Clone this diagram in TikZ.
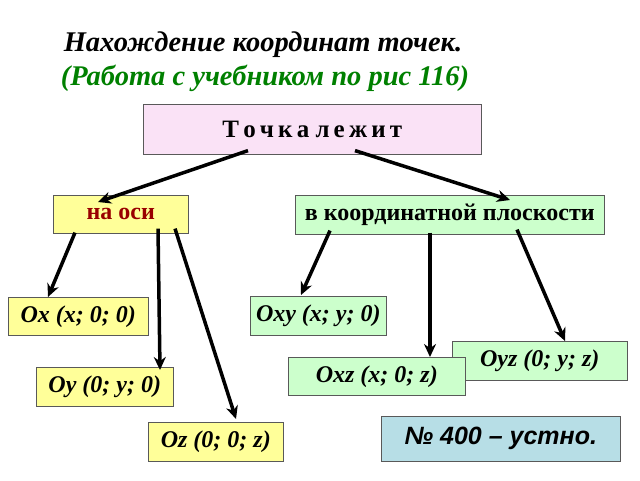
\documentclass[tikz,border=0pt]{standalone}
\usepackage{fontspec}
\usetikzlibrary{arrows.meta,calc}
\setmainfont{Liberation Serif}
\setsansfont{Liberation Sans}
\begin{document}
\begin{tikzpicture}[x=1pt,y=-1pt,
 bx/.style={draw=gray!70!black,line width=0.6pt,anchor=north west,inner sep=0pt,font=\fontsize{24}{28}\selectfont\bfseries\itshape},
 ye/.style={bx,fill={rgb,255:red,255;green,255;blue,153}},
 gr/.style={bx,fill={rgb,255:red,204;green,255;blue,204}},
 ar/.style={line width=3.5pt,-{Stealth[length=13pt,width=12pt]}}]
\useasboundingbox (0,0) rectangle (640,480);
\node[font=\fontsize{28.5}{32}\selectfont\bfseries\itshape] (t1) at (263,45) {Нахождение координат точек.};
\node[font=\fontsize{28.5}{32}\selectfont\bfseries\itshape,text={rgb,255:red,0;green,128;blue,0}] (t2) at (265,78) {(Работа с учебником по рис 116)};
\node[bx,fill={rgb,255:red,250;green,226;blue,246},minimum width=338,minimum height=50,font=\fontsize{25}{28}\selectfont\bfseries] (T) at (143,104) {Т\,о\,ч\,к\,а\ л\,е\,ж\,и\,т};
\node[ye,minimum width=135,minimum height=38,text={rgb,255:red,153;green,0;blue,0},font=\fontsize{24}{28}\selectfont\bfseries] (A) at (53,195) {на оси};
\node[gr,minimum width=309,minimum height=39,font=\fontsize{24}{28}\selectfont\bfseries] (P) at (295,195) {в координатной плоскости};
\node[ye,minimum width=140,minimum height=38] (ox) at (8,297) {Ox (x; 0; 0)};
\node[gr,minimum width=136,minimum height=39] (oxy) at (250,296) {Oxy (x; y; 0)};
\node[gr,minimum width=175,minimum height=39] (oyz) at (452,341) {Oyz (0; y; z)};
\node[gr,minimum width=177,minimum height=38] (oxz) at (288,357) {Oxz (x; 0; z)};
\node[ye,minimum width=137,minimum height=39] (oy) at (36,367) {Oy (0; y; 0)};
\node[ye,minimum width=135,minimum height=39] (oz) at (148,422) {Oz (0; 0; z)};
\node[bx,fill={rgb,255:red,183;green,222;blue,230},minimum width=239,minimum height=45,font=\fontsize{25}{28}\selectfont\sffamily\bfseries\itshape] (n) at (381,416) {№ 400 – устно.};
\draw[ar] ($(T.south west)+(105,-4)$) -- ($(A.north west)+(45,7)$);
\draw[ar] ($(T.south west)+(212,-4)$) -- ($(P.north west)+(215,5)$);
\draw[ar] ($(A.south west)+(22,-1)$) -- ($(ox.north west)+(40,0)$);
\draw[ar] ($(A.south west)+(105,-5)$) -- ($(oy.north west)+(124,3)$);
\draw[ar] ($(A.south west)+(122,-5)$) -- ($(oz.north west)+(88,-3)$);
\draw[ar] ($(P.south west)+(35,-4)$) -- ($(oxy.north west)+(51,-1)$);
\draw[ar] ($(P.south west)+(135,-2)$) -- ($(oxz.north west)+(142,0)$);
\draw[ar] ($(P.south west)+(222,-5)$) -- ($(oyz.north west)+(113,0)$);
\end{tikzpicture}
\end{document}
